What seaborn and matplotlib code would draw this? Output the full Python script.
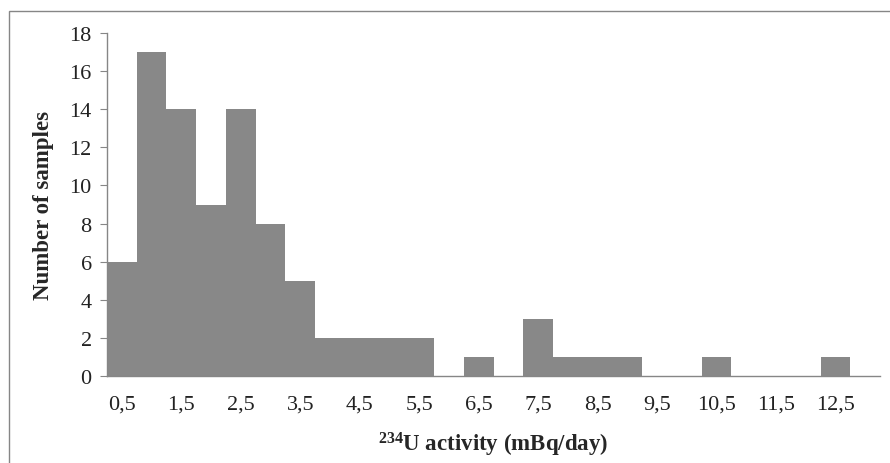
import matplotlib
matplotlib.use("Agg")
import matplotlib.pyplot as plt
import seaborn as sns
import pandas as pd
from matplotlib.patches import Rectangle

# Data
activity = ["0,5", "1", "1,5", "2", "2,5", "3", "3,5", "4", "4,5", "5", "5,5", "6", "6,5",
            "7", "7,5", "8", "8,5", "9", "9,5", "10", "10,5", "11", "11,5", "12", "12,5", "13"]
counts = [6, 17, 14, 9, 14, 8, 5, 2, 2, 2, 2, 0, 1,
          0, 3, 1, 1, 1, 0, 0, 1, 0, 0, 0, 1, 0]
shown_labels = ["0,5", "1,5", "2,5", "3,5", "4,5", "5,5", "6,5", "7,5", "8,5", "9,5",
                "10,5", "11,5", "12,5"]
y_ticks = [0, 2, 4, 6, 8, 10, 12, 14, 16, 18]

sns.set_theme(style="white")
plt.rcParams['font.family'] = ['Liberation Serif', 'DejaVu Serif']
plt.rcParams['mathtext.fontset'] = 'custom'
plt.rcParams['mathtext.rm'] = 'Liberation Serif:bold'
plt.rcParams['mathtext.default'] = 'rm'

df = pd.DataFrame({"activity": activity, "count": counts})

W, H = 890, 464
fig = plt.figure(figsize=(W / 100, H / 100), dpi=100)
ax = fig.add_axes([107 / W, 1 - 377 / H, (880 - 107) / W, (377 - 34) / H])

sns.barplot(data=df, x="activity", y="count", color="#888888", saturation=1,
            width=1.0, linewidth=0, ax=ax)

ax.set_xlim(-0.5, len(activity) - 0.5)
ax.set_ylim(0, 18)
ax.set_yticks(y_ticks)
ax.set_yticklabels([str(v) for v in y_ticks], fontsize=16, color="#222222")
ax.set_xticks(range(len(activity)))
ax.set_xticklabels([a if a in shown_labels else "" for a in activity],
                   fontsize=16, color="#222222")
ax.tick_params(axis="x", length=0, pad=13)
ax.tick_params(axis="y", length=5, width=0.8, color="#868686", pad=6, left=True)

for side in ["top", "right"]:
    ax.spines[side].set_visible(False)
for side in ["left", "bottom"]:
    ax.spines[side].set_color("#868686")
    ax.spines[side].set_linewidth(1.0)

ax.set_ylabel("Number of samples", fontsize=16.5, fontweight="bold", labelpad=11)
ax.set_xlabel(r"$^{234}$U activity (mBq/day)", fontsize=16.5, fontweight="bold", labelpad=12)

# outer chart border
fig.patches.append(Rectangle((9 / W, -0.1), 1.2, 1 - 12 / H + 0.1,
                             transform=fig.transFigure, fill=False,
                             edgecolor="#868686", linewidth=1.0))

fig.savefig("out.png", dpi=100)
